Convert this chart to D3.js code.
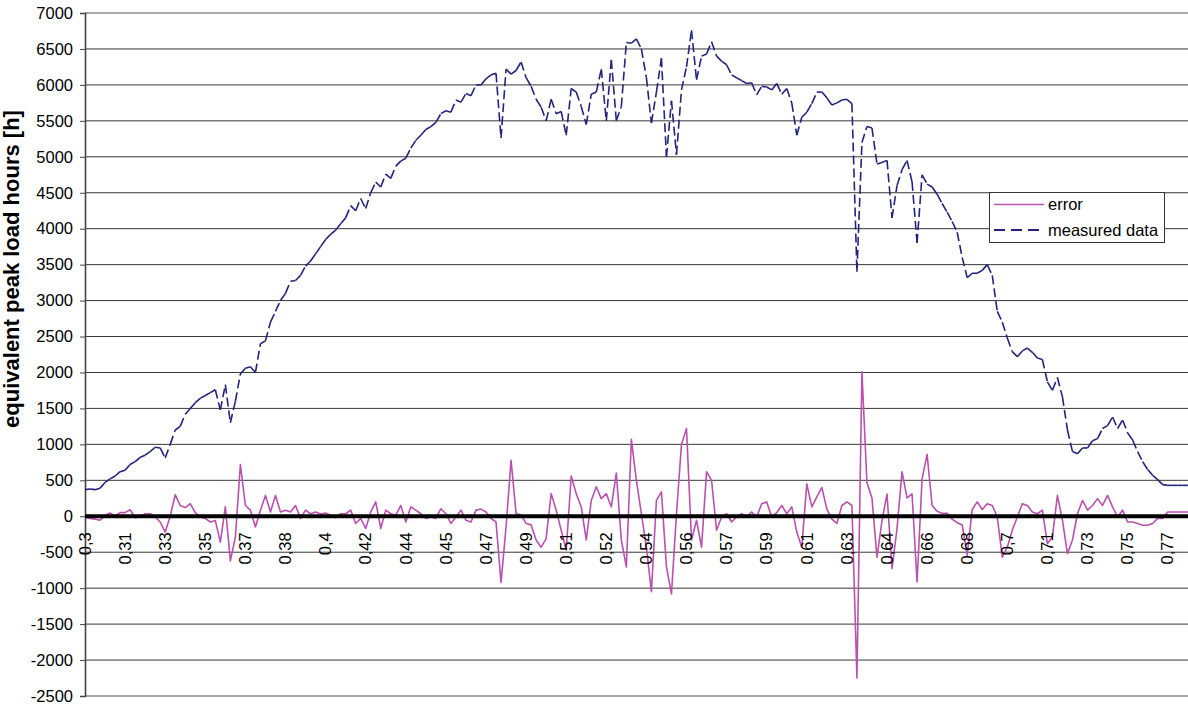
<!DOCTYPE html>
<html>
<head>
<meta charset="utf-8">
<script src="https://cdn.jsdelivr.net/npm/d3@7"></script>
<style>
  html, body { margin: 0; padding: 0; background: #fff; }
  svg { display: block; font-family: "Liberation Sans", Arial, sans-serif; }
</style>
</head>
<body>
<svg id="chart" width="1188" height="704"></svg>
<script>
// Category labels, one every 8 samples along the axis
const tickLabels = ["0,3","0,31","0,33","0,35","0,37","0,38","0,4","0,42","0,44","0,45",
  "0,47","0,49","0,51","0,52","0,54","0,56","0,57","0,59","0,61","0,63",
  "0,64","0,66","0,68","0,7","0,71","0,73","0,75","0,77"];
const samplesPerLabel = 8;

// Equivalent peak load hours, measured
const measured = [
  370,380,370,390,470,520,560,620,640,720,
  760,820,850,900,960,950,810,1000,1200,1250,
  1420,1500,1580,1640,1680,1720,1760,1480,1830,1300,
  1600,1980,2060,2080,2000,2400,2440,2700,2850,3000,
  3100,3270,3280,3350,3480,3550,3650,3750,3850,3920,
  3980,4070,4150,4320,4250,4420,4280,4500,4650,4580,
  4760,4700,4870,4940,4980,5120,5230,5300,5380,5420,
  5480,5600,5640,5620,5790,5760,5880,5850,6000,6000,
  6085,6140,6160,5260,6220,6150,6200,6320,6100,5980,
  5800,5690,5500,5800,5600,5630,5300,5950,5900,5700,
  5450,5870,5900,6220,5500,6350,5500,5700,6590,6580,
  6640,6500,6100,5470,5900,6370,5000,5780,5030,5930,
  6250,6760,6070,6400,6430,6600,6400,6330,6280,6140,
  6100,6060,6020,6030,5860,5980,5970,5930,6020,5870,
  5950,5750,5300,5550,5620,5740,5900,5900,5820,5720,
  5750,5790,5800,5740,3400,5200,5420,5400,4900,4920,
  4950,4150,4600,4820,4950,4650,3800,4750,4620,4580,
  4480,4350,4230,4100,3950,3600,3320,3380,3380,3420,
  3500,3350,2850,2700,2480,2290,2220,2300,2340,2280,
  2200,2180,1870,1750,1930,1660,1200,900,870,950,
  950,1050,1080,1220,1260,1380,1220,1340,1160,1060,
  900,760,650,570,510,440,430,430,430,430,
  430,430,430,430,430
];

// Model error against the measured values
const error = [
  -10,-30,-40,-55,15,45,0,50,50,90,
  -20,-10,35,35,-10,-80,-220,0,300,150,
  120,175,50,-10,-30,-80,-60,-360,130,-620,
  -290,720,150,85,-150,85,290,60,290,60,
  85,60,150,-30,85,35,60,30,45,15,
  -20,35,35,85,-100,-30,-170,60,200,-170,
  85,35,15,150,-80,130,85,35,-30,-10,
  -30,105,35,-100,-10,85,-55,-80,85,100,
  60,-30,-80,-920,-150,780,40,15,-100,-120,
  -330,-430,-310,315,85,-195,-470,560,315,130,
  -330,220,410,245,315,130,600,-330,-705,1070,
  500,35,-430,-1050,220,340,-705,-1080,35,1000,
  1220,-330,-55,-430,620,500,-195,-10,35,-80,
  -10,35,-10,60,-10,175,200,-10,50,150,
  35,130,-220,-430,450,130,270,400,100,-40,
  -100,150,200,150,-2250,2010,470,255,-570,-65,
  310,-730,-170,620,255,310,-915,520,860,150,
  70,40,40,-40,-90,-120,-540,95,200,95,
  175,150,-10,-570,-430,-195,-10,175,150,60,
  35,85,-380,-290,290,-55,-520,-330,35,220,
  85,150,245,150,290,130,-10,85,-80,-80,
  -100,-125,-125,-100,-30,-30,60,60,60,60,
  60,60,60,60,60
];

const yTicks = d3.range(-2500, 7001, 500);

const seriesNames = ["error", "measured data"];
const seriesColors = ["#b952ae", "#24247c"];

const W = 1188, H = 704;
const plotLeft = 85, plotTop = 13, plotBottom = 696;
const labelStep = 40.1;
const nSamples = tickLabels.length * samplesPerLabel;

const svg = d3.select("#chart");

const x = d3.scaleLinear()
  .domain([0, nSamples])
  .range([plotLeft, plotLeft + tickLabels.length * labelStep]);
const y = d3.scaleLinear().domain([-2500, 7000]).range([plotBottom, plotTop]);

// Horizontal gridlines
svg.append("g")
  .selectAll("line")
  .data(yTicks)
  .join("line")
  .attr("x1", plotLeft).attr("x2", W)
  .attr("y1", d => y(d)).attr("y2", d => y(d))
  .attr("stroke", d => (d === 7000 || d === -2500) ? "#8c8c8c" : "#383838")
  .attr("stroke-width", d => (d === 7000 || d === -2500) ? 1.6 : 1);

// Value axis
const yAxis = svg.append("g")
  .attr("transform", `translate(${plotLeft},0)`)
  .call(d3.axisLeft(y).tickValues(yTicks).tickSize(5).tickPadding(7)
    .tickFormat(d => String(d)));
yAxis.select(".domain").attr("stroke", "#444").attr("stroke-width", 1.6);
yAxis.selectAll(".tick line").attr("stroke", "#444");
yAxis.selectAll(".tick text")
  .attr("font-size", 16.5)
  .attr("font-family", "Liberation Sans, Arial, sans-serif")
  .attr("fill", "#000");

// Axis title
svg.append("text")
  .attr("transform", "translate(19,269) rotate(-90)")
  .attr("text-anchor", "middle")
  .attr("font-size", 22)
  .attr("font-weight", "bold")
  .text("equivalent peak load hours [h]");

// Error series
const idx = d3.range(error.length);
svg.append("path")
  .datum(idx)
  .attr("fill", "none")
  .attr("stroke", seriesColors[0])
  .attr("stroke-width", 1.6)
  .attr("stroke-linejoin", "round")
  .attr("d", d3.line().x(i => x(i)).y(i => y(error[i])));

// Measured series: each segment dashed on its own, so short steps stay solid
svg.append("g")
  .selectAll("line")
  .data(d3.range(measured.length - 1))
  .join("line")
  .attr("x1", i => x(i)).attr("y1", i => y(measured[i]))
  .attr("x2", i => x(i + 1)).attr("y2", i => y(measured[i + 1]))
  .attr("stroke", seriesColors[1])
  .attr("stroke-width", 1.6)
  .attr("stroke-dasharray", "9,4")
  .attr("stroke-linecap", "butt");

// Category axis at zero
svg.append("line")
  .attr("x1", plotLeft).attr("x2", W)
  .attr("y1", y(0)).attr("y2", y(0))
  .attr("stroke", "#000").attr("stroke-width", 4);

svg.append("g")
  .selectAll("text")
  .data(tickLabels)
  .join("text")
  .attr("transform", (d, k) => `translate(${x(k * samplesPerLabel)},${y(0) + 16}) rotate(-90)`)
  .attr("text-anchor", "end")
  .attr("dy", "0.35em")
  .attr("font-size", 16.5)
  .text(d => d);

// Legend
const lg = svg.append("g").attr("transform", "translate(989,192)");
lg.append("rect")
  .attr("x", 0.5).attr("y", 0.5).attr("width", 175).attr("height", 50)
  .attr("fill", "#fff").attr("stroke", "#333").attr("stroke-width", 1);
seriesNames.forEach((name, k) => {
  const ly = 12.5 + k * 25.5;
  lg.append("line")
    .attr("x1", 5).attr("x2", 55).attr("y1", ly).attr("y2", ly)
    .attr("stroke", seriesColors[k]).attr("stroke-width", k ? 2 : 1.6)
    .attr("stroke-dasharray", k ? "11,6" : null);
  lg.append("text")
    .attr("x", 59).attr("y", ly).attr("dy", "0.35em")
    .attr("font-size", 16.5)
    .text(name);
});
</script>
</body>
</html>
